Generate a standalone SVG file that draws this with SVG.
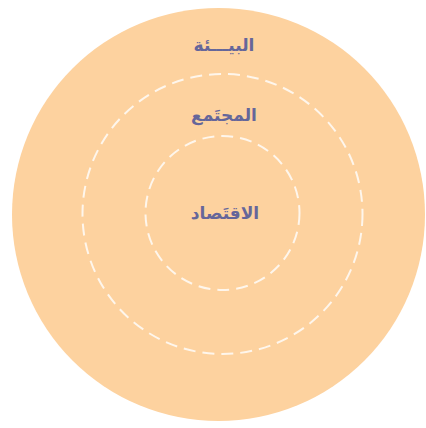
<svg xmlns="http://www.w3.org/2000/svg" width="426" height="428" viewBox="0 0 426 428">
<style>
.ring{fill:none;stroke:#fef6ec;stroke-width:2;stroke-dasharray:12 7;}
.lbl{font-family:"DejaVu Sans",sans-serif;font-weight:bold;font-size:17px;fill:#65669a;text-anchor:middle;direction:rtl;}
</style>
<rect width="426" height="428" fill="#ffffff"/>
<g id="environment">
<circle cx="218.5" cy="214.5" r="206.5" fill="#fdd29f"/>
<text class="lbl" x="224" y="51">البيـــئة</text>
</g>
<g id="society">
<circle class="ring" cx="222.5" cy="214" r="140"/>
<text class="lbl" x="224" y="121">المجتَمع</text>
</g>
<g id="economy">
<circle class="ring" cx="222.5" cy="213" r="77"/>
<text class="lbl" x="225" y="219">الاقتَصاد</text>
</g>
<g id="connectors"/>
</svg>
